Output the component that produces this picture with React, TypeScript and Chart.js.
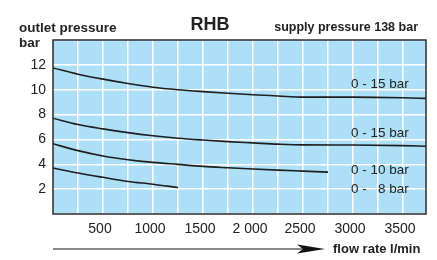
import React, { useEffect, useRef } from "react";
import { Chart, registerables } from "chart.js";

Chart.register(...registerables);

const flowCurve1 = [0, 250, 500, 750, 1000, 1250, 1500, 1750, 2000, 2250, 2500, 3000, 3500, 3730];
const pressCurve1 = [11.75, 11.25, 10.85, 10.5, 10.2, 10.0, 9.85, 9.72, 9.6, 9.5, 9.4, 9.4, 9.35, 9.3];
const flowCurve2 = [0, 250, 500, 750, 1000, 1250, 1500, 1750, 2000, 2250, 2500, 3000, 3500, 3730];
const pressCurve2 = [7.7, 7.2, 6.85, 6.55, 6.3, 6.1, 5.95, 5.82, 5.72, 5.62, 5.56, 5.55, 5.5, 5.45];
const flowCurve3 = [0, 250, 500, 750, 1000, 1250, 1500, 1750, 2000, 2250, 2500, 2750];
const pressCurve3 = [5.65, 5.1, 4.67, 4.37, 4.15, 3.99, 3.83, 3.72, 3.62, 3.53, 3.45, 3.37];
const flowCurve4 = [0, 250, 500, 750, 1000, 1250];
const pressCurve4 = [3.7, 3.3, 2.95, 2.62, 2.4, 2.13];

const curveLabels = ["0 - 15 bar", "0 - 15 bar", "0 - 10 bar", "0 -   8 bar"];
const curveLabelPress = [10.4, 6.5, 3.55, 2.0];
const curveLabelFlow = 2980;

const xTickLabels = [500, 1000, 1500, 2000, 2500, 3000, 3500];
const yTickLabels = [2, 4, 6, 8, 10, 12];

const title = "RHB";
const yTitle1 = "outlet pressure";
const yTitle2 = "bar";
const supplyText = "supply pressure 138 bar";
const xTitle = "flow rate l/min";

const FONT = "'Liberation Sans', Arial, Helvetica, sans-serif";

function pts(xs: number[], ys: number[]) {
  return xs.map((x, i) => ({ x, y: ys[i] }));
}

export default function App() {
  const ref = useRef<HTMLCanvasElement | null>(null);

  useEffect(() => {
    if (!ref.current) return;
    const decorPlugin = {
      id: "decor",
      beforeDraw(chart: any) {
        const { ctx, chartArea } = chart;
        ctx.save();
        ctx.fillStyle = "#ffffff";
        ctx.fillRect(0, 0, chart.width, chart.height);
        ctx.fillStyle = "#addff7";
        ctx.fillRect(chartArea.left, chartArea.top, chartArea.right - chartArea.left, chartArea.bottom - chartArea.top);
        ctx.restore();
      },
      afterDraw(chart: any) {
        const { ctx, chartArea, scales } = chart;
        const xs = scales.x;
        const ys = scales.y;
        ctx.save();
        ctx.strokeStyle = "#2b2b2b";
        ctx.lineWidth = 1.5;
        ctx.strokeRect(chartArea.left, chartArea.top, chartArea.right - chartArea.left, chartArea.bottom - chartArea.top);

        ctx.fillStyle = "#222222";
        ctx.font = `13.5px ${FONT}`;
        ctx.textAlign = "left";
        ctx.textBaseline = "middle";
        curveLabels.forEach((t, i) => {
          ctx.fillText(t, xs.getPixelForValue(curveLabelFlow), ys.getPixelForValue(curveLabelPress[i]));
        });

        ctx.font = `bold 18px ${FONT}`;
        ctx.textAlign = "center";
        ctx.fillText(title, 210, 25);

        ctx.font = `bold 13.5px ${FONT}`;
        ctx.textAlign = "left";
        ctx.fillText(yTitle1, 19, 28);
        ctx.fillText(yTitle2, 19, 43);

        ctx.font = `bold 12.5px ${FONT}`;
        ctx.textAlign = "right";
        ctx.fillText(supplyText, 418, 28);

        ctx.font = `bold 13px ${FONT}`;
        ctx.textAlign = "left";
        ctx.fillText(xTitle, 333, 249);

        const y0 = 249;
        ctx.strokeStyle = "#111";
        ctx.lineWidth = 1.2;
        ctx.beginPath();
        ctx.moveTo(chartArea.left, y0);
        ctx.lineTo(305, y0);
        ctx.stroke();
        ctx.fillStyle = "#111";
        ctx.beginPath();
        ctx.moveTo(325, y0);
        ctx.lineTo(297, y0 - 4.5);
        ctx.lineTo(303, y0);
        ctx.lineTo(297, y0 + 4.5);
        ctx.closePath();
        ctx.fill();
        ctx.restore();
      },
    };

    const lineStyle = {
      borderColor: "#1e1e1e",
      borderWidth: 1.6,
      pointRadius: 0,
      fill: false,
      cubicInterpolationMode: "monotone" as const,
    };

    const chart = new Chart(ref.current, {
      type: "line",
      data: {
        datasets: [
          { ...lineStyle, data: pts(flowCurve1, pressCurve1) },
          { ...lineStyle, data: pts(flowCurve2, pressCurve2) },
          { ...lineStyle, data: pts(flowCurve3, pressCurve3) },
          { ...lineStyle, data: pts(flowCurve4, pressCurve4) },
        ],
      },
      options: {
        animation: false,
        responsive: false,
        devicePixelRatio: 1,
        layout: { padding: { left: 0, right: 11, top: 40, bottom: 0 } },
        plugins: { legend: { display: false }, tooltip: { enabled: false } },
        scales: {
          x: {
            type: "linear",
            min: 0,
            max: 3730,
            afterFit(scale: any) {
              scale.height = 46;
            },
            afterBuildTicks(scale: any) {
              const t = [];
              for (let v = 250; v < 3730; v += 250) t.push({ value: v });
              scale.ticks = t;
            },
            grid: { color: "#ffffff", lineWidth: 1.5, drawTicks: false },
            border: { display: false },
            ticks: {
              padding: 7,
              labelOffset: -3,
              color: "#222",
              font: { family: FONT, size: 14 },
              maxRotation: 0,
              autoSkip: false,
              callback: (v: any) => (xTickLabels.includes(Number(v)) ? (Number(v) === 2000 ? "2 000" : String(v)) : ""),
            },
          },
          y: {
            type: "linear",
            min: 0,
            max: 14,
            afterFit(scale: any) {
              scale.width = 53;
            },
            afterBuildTicks(scale: any) {
              const t = [];
              for (let v = 0; v <= 14; v += 2) t.push({ value: v });
              scale.ticks = t;
            },
            grid: { color: "#ffffff", lineWidth: 1.5, drawTicks: false },
            border: { display: false },
            ticks: {
              padding: 7,
              color: "#222",
              font: { family: FONT, size: 14 },
              callback: (v: any) => (yTickLabels.includes(Number(v)) ? String(v) : ""),
            },
          },
        },
      },
      plugins: [decorPlugin],
    });
    return () => chart.destroy();
  }, []);

  return (
    <div style={{ position: "absolute", left: 0, top: 0, width: 437, height: 260 }}>
      <canvas ref={ref} width={437} height={260} style={{ width: 437, height: 260 }} />
    </div>
  );
}
